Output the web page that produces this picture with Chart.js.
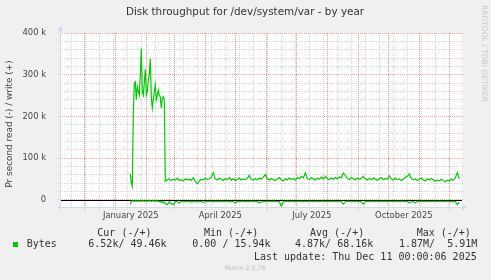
<!DOCTYPE html>
<html>
<head>
<meta charset="utf-8">
<title>Disk throughput for /dev/system/var - by year</title>
<script src="https://cdn.jsdelivr.net/npm/chart.js@4.4.1/dist/chart.umd.min.js"></script>
<style>
  html, body { margin: 0; padding: 0; background: #f0f0f0; }
  canvas { display: block; }
</style>
</head>
<body>
<canvas id="diskChart" width="491" height="280"></canvas>
<script>
// x values are days counted from 1 January 2025, y values in k (bytes/s)

// busy period in January / February, one value per day (day 15 .. day 50)
let burstStart = 15;
let writeBurst = [62, 40, 32, 200, 280, 283, 240, 271, 260, 251,
                  300, 363, 259, 251, 280, 313, 251, 260, 287, 300,
                  339, 247, 220, 240, 259, 275, 240, 251, 263, 250,
                  247, 220, 243, 247, 240, 44];
let readBurst = [-12, -4, -3, -3, -4, -3, -3, -4, -3, -3,
                 -4, -3, -3, -3, -4, -3, -3, -4, -3, -3,
                 -3, -4, -3, -3, -4, -3, -3, -4, -3, -5,
                 -4, -6, -4, -8, -5, -10];

// rest of the year, one value every second day (day 52 .. day 344)
let quietStart = 52;
let quietStep = 2;
let writeQuiet = [48, 50, 46, 49, 47, 51, 46, 48, 45, 50,
                  47, 49, 46, 53, 44, 38, 45, 49, 47, 52,
                  48, 50, 54, 65, 50, 47, 52, 49, 46, 51,
                  48, 53, 47, 50, 46, 49, 52, 47, 50, 48,
                  51, 58, 49, 47, 51, 48, 52, 49, 54, 60,
                  50, 47, 51, 48, 46, 50, 53, 48, 45, 50,
                  47, 52, 49, 51, 47, 53, 50, 56, 52, 64,
                  51, 48, 53, 50, 47, 52, 49, 54, 50, 56,
                  51, 48, 52, 49, 53, 50, 55, 52, 64, 58,
                  51, 48, 53, 50, 47, 52, 49, 51, 56, 50,
                  47, 51, 48, 52, 49, 46, 50, 53, 48, 51,
                  49, 57, 50, 47, 52, 48, 50, 46, 49, 53,
                  56, 62, 51, 48, 50, 46, 49, 52, 48, 45,
                  50, 47, 51, 48, 44, 47, 45, 49, 46, 43,
                  47, 45, 50, 46, 52, 65, 50];
let readQuiet = [-12, -5, -10, -12, -4, -5, -8, -4, -5, -4,
                 -5, -4, -6, -4, -5, -4, -5, -4, -7, -4,
                 -5, -4, -4, -5, -4, -5, -4, -4, -5, -4,
                 -4, -5, -4, -5, -8, -4, -5, -4, -4, -5,
                 -4, -5, -4, -4, -5, -4, -8, -5, -4, -5,
                 -4, -4, -5, -4, -4, -5, -4, -16, -5, -4,
                 -4, -5, -4, -4, -5, -4, -4, -5, -4, -4,
                 -5, -4, -4, -5, -4, -4, -5, -4, -4, -5,
                 -4, -4, -5, -4, -4, -5, -4, -4, -11, -5,
                 -4, -4, -5, -4, -4, -5, -4, -5, -11, -4,
                 -4, -5, -4, -4, -5, -4, -4, -5, -4, -4,
                 -5, -4, -4, -5, -4, -4, -5, -4, -4, -5,
                 -4, -8, -5, -4, -8, -4, -5, -4, -4, -5,
                 -4, -4, -5, -4, -4, -5, -4, -4, -5, -4,
                 -4, -5, -4, -5, -4, -12, -6];

// grid and labels
let monthStarts = [-31, 0, 31, 59, 90, 120, 151, 181, 212, 243, 273, 304, 334];
let biweekly = [-44, -30, -16, -2, 12, 26, 40, 54, 68, 82, 96, 110, 124, 138,
                152, 166, 180, 194, 208, 222, 236, 250, 264, 278, 292, 306, 320, 334];
let quarterPos = [15.5, 105, 196.5, 288.5];
let quarterLabels = ['January 2025', 'April 2025', 'July 2025', 'October 2025'];
let yMajor = [0, 100, 200, 300, 400];
let yMajorLabels = ['0', '100 k', '200 k', '300 k', '400 k'];
let yMinor = [20, 40, 60, 80, 120, 140, 160, 180, 220, 240, 260, 280, 320, 340, 360, 380];

let legendHeads = ['Cur (-/+)', 'Min (-/+)', 'Avg (-/+)', 'Max (-/+)'];
let legendValues = ['6.52k/ 49.46k', '0.00 / 15.94k', '4.87k/ 68.16k', '1.87M/  5.91M'];
let seriesName = 'Bytes';
let lastUpdate = 'Last update: Thu Dec 11 00:00:06 2025';

let green = '#00cc00';
let redGrid = '#f5a3a3';
let redGridV = '#f39090';
let greyGrid = '#d6d6d6';
let axisBlue = '#cfd6f8';

function toPoints(values, start, step) {
    let pts = [];
    for (let i = 0; i < values.length; i++) {
        pts.push({x: start + i * step, y: values[i]});
    }
    return pts;
}

let writeData = toPoints(writeBurst, burstStart, 1).concat(toPoints(writeQuiet, quietStart, quietStep));
let readData = toPoints(readBurst, burstStart, 1).concat(toPoints(readQuiet, quietStart, quietStep));

// dotted rrdtool style lines, one pixel on / one pixel off
function dotsV(c, x, y1, y2, color) {
    c.fillStyle = color;
    let col = Math.floor(x);
    for (let y = Math.floor(y1); y <= y2; y += 2) c.fillRect(col, y, 1, 1);
}
function dotsH(c, y, x1, x2, color) {
    c.fillStyle = color;
    let row = Math.floor(y);
    for (let x = Math.floor(x1); x <= x2; x += 2) c.fillRect(x, row, 1, 1);
}

let frame = {
    id: 'frame',
    beforeDraw(chart) {
        let c = chart.ctx, a = chart.chartArea;
        c.save();
        c.fillStyle = '#f0f0f0';
        c.fillRect(0, 0, chart.width, chart.height);
        c.fillStyle = '#ffffff';
        c.fillRect(a.left, a.top, a.right - a.left, a.bottom - a.top);
        c.restore();
    },
    beforeDatasetsDraw(chart) {
        let c = chart.ctx, a = chart.chartArea;
        let xs = chart.scales.x, ys = chart.scales.y;
        c.save();
        yMinor.forEach(v => dotsH(c, ys.getPixelForValue(v), a.left - 3, a.right, greyGrid));
        biweekly.forEach(v => dotsV(c, xs.getPixelForValue(v), a.top, a.bottom + 2, greyGrid));
        yMajor.forEach(v => dotsH(c, ys.getPixelForValue(v), a.left - 3, a.right, redGrid));
        monthStarts.forEach(v => dotsV(c, xs.getPixelForValue(v), a.top, a.bottom + 2, redGridV));
        // zero line
        let y0 = Math.floor(ys.getPixelForValue(0)) + 1;
        c.fillStyle = '#000000';
        c.fillRect(a.left, y0, a.right - a.left, 1);
        c.restore();
    },
    afterDraw(chart) {
        let c = chart.ctx, a = chart.chartArea;
        c.save();
        // axes with arrows
        c.strokeStyle = axisBlue;
        c.fillStyle = axisBlue;
        c.lineWidth = 1;
        c.beginPath();
        c.moveTo(a.left - 0.5, a.bottom + 2);
        c.lineTo(a.left - 0.5, a.top - 4);
        c.moveTo(a.left - 3, a.bottom - 0.5);
        c.lineTo(a.right + 2, a.bottom - 0.5);
        c.stroke();
        c.beginPath();
        c.moveTo(a.left - 0.5, a.top - 7);
        c.lineTo(a.left - 3, a.top - 2);
        c.lineTo(a.left + 2, a.top - 2);
        c.fill();
        c.beginPath();
        c.moveTo(a.right + 5, a.bottom - 0.5);
        c.lineTo(a.right, a.bottom - 3);
        c.lineTo(a.right, a.bottom + 2);
        c.fill();

        // title
        c.fillStyle = '#333333';
        c.font = '10.4px "DejaVu Sans"';
        c.textAlign = 'center';
        c.textBaseline = 'middle';
        c.fillText('Disk throughput for /dev/system/var - by year', 245, 12);

        // vertical axis title
        c.save();
        c.translate(9.5, 124);
        c.rotate(-Math.PI / 2);
        c.font = '8.9px "DejaVu Sans"';
        c.fillStyle = '#444444';
        c.fillText('Pr second read (-) / write (+)', 0, 0);
        c.restore();

        // rrdtool watermark
        c.save();
        c.translate(483.7, 5);
        c.rotate(Math.PI / 2);
        c.font = '7.5px "DejaVu Sans"';
        c.fillStyle = '#c8c8c8';
        c.textAlign = 'left';
        c.fillText('RRDTOOL / TOBI OETIKER', 0, 0);
        c.restore();

        // legend
        c.font = '10px "DejaVu Sans Mono"';
        c.fillStyle = '#333333';
        c.textAlign = 'left';
        let colX = [97.3, 204, 310, 416.7];
        legendHeads.forEach((t, i) => c.fillText(t, colX[i], 233));
        let valX = [88.3, 192.3, 295, 399];
        legendValues.forEach((t, i) => c.fillText(t, valX[i], 244.5));
        c.fillText(seriesName, 26.7, 244.5);
        c.textAlign = 'right';
        c.fillText(lastUpdate, 476.7, 257);
        c.fillStyle = green;
        c.fillRect(13, 242, 5, 5);

        c.font = '6.3px "DejaVu Sans"';
        c.fillStyle = '#bdbdbd';
        c.textAlign = 'center';
        c.fillText('Munin 2.0.76', 245, 268.5);
        c.restore();
    }
};

let ctx = document.getElementById('diskChart');
let chart = new Chart(ctx, {
    type: 'line',
    data: {
        datasets: [{
            label: 'read',
            data: readData,
            borderColor: green,
            borderWidth: 1.2,
            pointRadius: 0,
            tension: 0,
            fill: false
        }, {
            label: 'write',
            data: writeData,
            borderColor: green,
            borderWidth: 1.2,
            pointRadius: 0,
            tension: 0,
            fill: false
        }]
    },
    options: {
        responsive: false,
        animation: false,
        layout: {padding: {left: 0, top: 33, right: 29, bottom: 52}},
        plugins: {legend: {display: false}, tooltip: {enabled: false}, title: {display: false}},
        scales: {
            x: {
                type: 'linear',
                min: -54.3,
                max: 346.7,
                afterBuildTicks: s => { s.ticks = quarterPos.map(v => ({value: v})); },
                afterFit: s => { s.height = 20; },
                ticks: {
                    autoSkip: false,
                    maxRotation: 0,
                    padding: -5,
                    color: '#444444',
                    font: {family: 'DejaVu Sans', size: 8.4},
                    callback: (v, i) => quarterLabels[i]
                },
                grid: {display: false},
                border: {display: false}
            },
            y: {
                min: -20,
                max: 400,
                afterBuildTicks: s => { s.ticks = yMajor.map(v => ({value: v})); },
                afterFit: s => { s.width = 61; },
                ticks: {
                    autoSkip: false,
                    padding: 7,
                    color: '#444444',
                    font: {family: 'DejaVu Sans', size: 8.4},
                    callback: (v, i) => yMajorLabels[i]
                },
                grid: {display: false},
                border: {display: false}
            }
        }
    },
    plugins: [frame]
});
</script>
</body>
</html>
